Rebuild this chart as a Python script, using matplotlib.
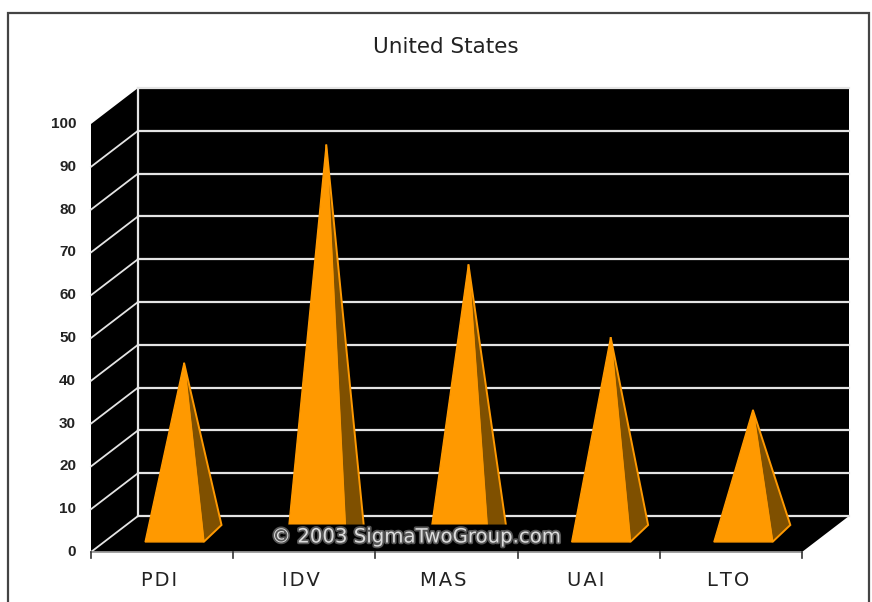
import matplotlib
matplotlib.use('Agg')
import matplotlib.pyplot as plt
import matplotlib.patheffects as pe
from matplotlib.patches import Polygon

# values
categories = ['PDI', 'IDV', 'MAS', 'UAI', 'LTO']
values = [40, 91, 63, 46, 29]
y_ticks = [0, 10, 20, 30, 40, 50, 60, 70, 80, 90, 100]
title = 'United States'
watermark = '\u00a9 2003 SigmaTwoGroup.com'

ORANGE = '#ff9900'
BROWN = '#7f5000'
GRID = '#e4e4e4'

# pixel geometry of the fake 3d box
X0, X1 = 91, 802
Y0, Y100 = 552, 124
DX, DY = 47, -36
SLOT = (X1 - X0) / len(categories)
PX_PER_UNIT = (Y0 - Y100) / 100


def project(cat, depth, val):
    # cat = position along the category axis, depth 0..1 front to back, val = chart value
    x = X0 + cat * SLOT + depth * DX
    y = Y0 - val * PX_PER_UNIT + depth * DY
    return x, y


fig = plt.figure(figsize=(8.72, 6.02), dpi=100)
ax = fig.add_axes([0, 0, 1, 1])
ax.set_xlim(0, 872)
ax.set_ylim(602, 0)
ax.axis('off')

# outer frame, runs off the bottom of the picture
ax.plot([8, 8, 869, 869], [610, 13, 13, 610], color='#444444', lw=1.6, solid_joinstyle='miter')

n = len(categories)
# walls and floor
ax.add_patch(Polygon([project(0, 0, 0), project(0, 1, 0), project(0, 1, 100), project(0, 0, 100)], fc='black', ec='none'))
ax.add_patch(Polygon([project(0, 1, 0), project(n, 1, 0), project(n, 1, 100), project(0, 1, 100)], fc='black', ec='none'))
ax.add_patch(Polygon([project(0, 0, 0), project(n, 0, 0), project(n, 1, 0), project(0, 1, 0)], fc='black', ec='none'))

for v in y_ticks:
    xa, ya = project(0, 0, v)
    xb, yb = project(0, 1, v)
    xc, yc = project(n, 1, v)
    # the top edge of the side wall has no light line in the reference
    if v < 100:
        ax.plot([xa, xb], [ya, yb], color=GRID, lw=1.3, zorder=2)
    ax.plot([xb, xc], [yb, yc], color=GRID, lw=1.6, zorder=2)
    ax.text(76, ya, str(v), ha='right', va='center', fontsize=11, fontweight='bold',
            family='Liberation Sans', color='#222222')
xb, yb = project(0, 1, 0)
xc, yc = project(0, 1, 100)
ax.plot([xb, xc], [yb, yc], color=GRID, lw=1.6, zorder=2)

# category axis, above the watermark box
ax.plot([X0, X1], [Y0, Y0], color='#999999', lw=1.3, zorder=7)
for i in range(n + 1):
    x, y = project(i, 0, 0)
    ax.plot([x, x], [y, y + 6], color='#333333', lw=1.2, zorder=7)

# pyramids
for i, (name, val) in enumerate(zip(categories, values)):
    left = i + 0.288
    right = i + 0.70
    fl = project(left, 0.28, 0)
    fr = project(right, 0.28, 0)
    br = project(right - 0.03, 0.75, 0)
    tip = project(i + 0.489, 0.5, val)
    ax.add_patch(Polygon([fr, br, tip], fc=BROWN, ec=ORANGE, lw=1.4, zorder=3, joinstyle='miter'))
    ax.add_patch(Polygon([fl, fr, tip], fc=ORANGE, ec=ORANGE, lw=1.0, zorder=4, joinstyle='miter'))
    x, _ = project(i + 0.5, 0, 0)
    ax.text(x - 3, 580, '\u200a'.join(name), ha='center', va='center', fontsize=14,
            family='DejaVu Sans', color='#222222')

ax.text(446, 47, title, ha='center', va='center', fontsize=15.5, family='DejaVu Sans', color='#222222')

ax.text(416, 537, watermark, ha='center', va='center', fontsize=14.2, family='DejaVu Sans',
        color='#dcdcdc', zorder=6,
        bbox=dict(boxstyle='round,pad=0.15', fc='black', ec='none'),
        path_effects=[pe.withStroke(linewidth=2.5, foreground='#555555')])

fig.savefig('out.png', dpi=100)
